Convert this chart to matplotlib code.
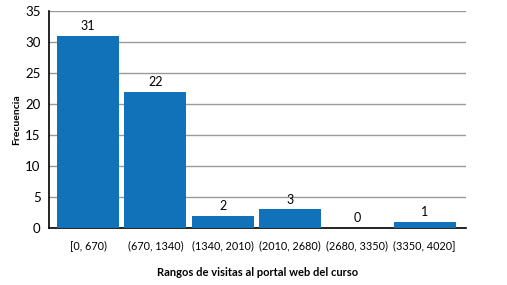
import matplotlib
matplotlib.use("Agg")
import matplotlib.pyplot as plt

categories = ["[0, 670)", "(670, 1340)", "(1340, 2010)", "(2010, 2680)", "(2680, 3350)", "(3350, 4020]"]
counts = [31, 22, 2, 3, 0, 1]
y_ticks = [0, 5, 10, 15, 20, 25, 30, 35]

plt.rcParams["font.family"] = ["Lato", "DejaVu Sans"]


def main() -> None:
    fig = plt.figure(figsize=(5.07, 2.85), dpi=100)
    ax = fig.add_axes([0.0966, 0.2, 0.822, 0.761])
    x = list(range(len(categories)))
    bars = ax.bar(x, counts, width=0.92, color="#1172b9", zorder=3)

    for bar, count in zip(bars, counts):
        ax.text(bar.get_x() + bar.get_width() / 2, bar.get_height() + 0.6, str(count),
                ha="center", va="bottom", fontsize=9)

    ax.set_xlim(-0.58, 5.61)
    ax.set_ylim(0, 35)
    ax.set_yticks(y_ticks)
    ax.set_xticks(x)
    ax.set_xticklabels(categories)
    ax.tick_params(axis="both", length=0, labelsize=9.5)
    ax.tick_params(axis="x", labelsize=7.8, pad=9)
    ax.tick_params(axis="y", pad=6)
    ax.yaxis.grid(True, color="#9a9a9a", linewidth=1, zorder=0)
    for side in ("top", "right"):
        ax.spines[side].set_visible(False)
    ax.spines["left"].set_linewidth(1.2)
    ax.spines["bottom"].set_linewidth(1.2)
    ax.set_ylabel("Frecuencia", fontsize=7.5, fontweight="bold", labelpad=3)
    ax.set_xlabel("Rangos de visitas al portal web del curso", fontsize=8, fontweight="bold", labelpad=11)

    fig.savefig("out.png", dpi=100)
    plt.close(fig)


if __name__ == "__main__":
    main()
